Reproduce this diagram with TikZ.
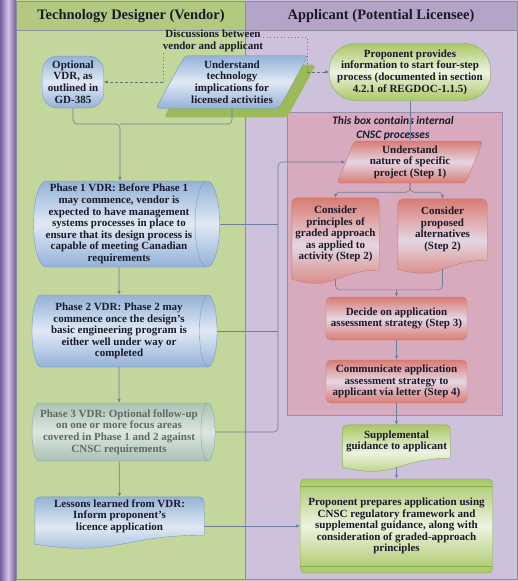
\documentclass[tikz,border=0pt]{standalone}
\usepackage{fontspec}
\setmainfont{Liberation Serif}
\newfontfamily\notefont{Carlito}
\usetikzlibrary{arrows.meta,positioning,calc,shapes.geometric,shapes.misc,shadows}
\definecolor{vlane}{HTML}{C3D69B}
\definecolor{vhead}{HTML}{B1CA80}
\definecolor{alane}{HTML}{CDC1DB}
\definecolor{ahead}{HTML}{B4A4C8}
\definecolor{bar}{HTML}{7A5C9E}
\definecolor{barlt}{HTML}{D2C4E6}
\definecolor{lanebd}{HTML}{8C8C9C}
\definecolor{blu}{HTML}{94B2D8}
\definecolor{blult}{HTML}{E0E9F4}
\definecolor{bluedge}{HTML}{7C99C2}
\definecolor{grn}{HTML}{A8C866}
\definecolor{grnlt}{HTML}{EDF3E1}
\definecolor{grnedge}{HTML}{8AAE4C}
\definecolor{shgrn}{HTML}{9BBB59}
\definecolor{rdd}{HTML}{D97C74}
\definecolor{rdlt}{HTML}{E4D6E2}
\definecolor{rdedge}{HTML}{C87A78}
\definecolor{cnsc}{HTML}{D8AABE}
\definecolor{cnscedge}{HTML}{9A8CB0}
\definecolor{grey3}{HTML}{A9C3B6}
\definecolor{grey3lt}{HTML}{DCE6E0}
\definecolor{grey3edge}{HTML}{8FA79C}
\definecolor{grey3txt}{HTML}{5F6B65}
\definecolor{ink}{HTML}{1A1A2A}
\definecolor{connc}{HTML}{6E7E9E}
\definecolor{dshc}{HTML}{5E7A78}
\pgfdeclarelayer{lanes}
\pgfdeclarelayer{shapes}
\pgfsetlayers{lanes,shapes,main}
% wavy-bottom document outline behind a text node
\newcommand\docshape[2]{%
  \begin{pgfonlayer}{shapes}
  \draw[#2] ($(#1.south west)+(0,9)$) [rounded corners=5pt] -- (#1.north west) -- (#1.north east) [sharp corners] -- (#1.south east)
    .. controls (#1.south) and ($(#1.south)+(0,22)$) .. ($(#1.south west)+(0,9)$) -- cycle;
  \end{pgfonlayer}}
\begin{document}
\begin{tikzpicture}[x=1pt, y=-1pt, >={Latex[length=4pt,width=3.5pt]},
  n/.style={align=center, font=\bfseries\fontsize{11}{11.6}\selectfont, text=ink, inner sep=1pt},
  bluefill/.style={draw=bluedge, top color=blu, bottom color=blu, middle color=blult},
  grnfill/.style={draw=grnedge, top color=grn, bottom color=grn, middle color=grnlt},
  redfill/.style={draw=rdedge, top color=rdd, bottom color=rdd, middle color=rdlt},
  greyfill/.style={draw=grey3edge, top color=grey3, bottom color=grey3, middle color=grey3lt},
  drum/.style={n, cylinder, shape aspect=0.3},
  slantbox/.style={n, trapezium, trapezium stretches=true, rounded corners=3pt},
  roundbox/.style={n, rectangle, rounded corners=#1},
  conn/.style={draw=connc, line width=0.6pt, rounded corners=4pt},
  e/.style={conn, ->},
  dots/.style={draw=dshc, line width=1pt, dash pattern=on 1pt off 2.5pt},
  dsh/.style={draw=dshc, line width=0.8pt, dash pattern=on 3pt off 2pt, ->},
  lane/.style={draw=lanebd, line width=0.6pt},
  head/.style={font=\bfseries\fontsize{14.5}{16}\selectfont, text=ink}
]
\useasboundingbox (0,0) rectangle (518,581);
% lanes
\begin{pgfonlayer}{lanes}
\fill[vlane] (16,0) rectangle (245,581);
\fill[alane] (245,0) rectangle (518,581);
\fill[vhead] (16,2) rectangle (245,30);
\fill[ahead] (245,2) rectangle (518,30);
\shade[left color=bar, right color=bar, middle color=barlt] (0,0) rectangle (16,581);
\draw[lane] (16,1) rectangle (245,579);
\draw[lane] (245,1) rectangle (517,579);
\draw[lane] (16,30) -- (517,30);
\node[chamfered rectangle, chamfered rectangle xsep=8pt, chamfered rectangle ysep=8pt, draw=cnscedge, fill=cnsc,
      minimum width=215pt, minimum height=303pt, inner sep=0pt] (cnsc) at (394.5,263.5) {};
\end{pgfonlayer}
\node[head] (vhd) at (131,16) {Technology Designer (Vendor)};
\node[head] (ahd) at (381,16) {Applicant (Potential Licensee)};
\node[n, font=\notefont\bfseries\itshape\fontsize{11.5}{14}\selectfont] (cnsct) at (393,128) {This box contains internal\\CNSC processes};

% vendor lane
\node[roundbox=15pt, bluefill, minimum width=61pt, minimum height=52pt] (ovdr) at (73,82) {Optional\\VDR, as\\outlined in\\GD-385};
\node[slantbox, bluefill, trapezium left angle=64, trapezium right angle=116, minimum width=152pt, inner ysep=5pt,
      drop shadow={shadow xshift=8pt, shadow yshift=-9pt, fill=shgrn, opacity=1}] (utech) at (232,82) {Understand\\technology\\implications for\\licensed activities};
\node[n, inner sep=0pt] (disc) at (213,41) {Discussions between\\vendor and applicant};
\node[drum, bluefill, minimum height=186pt, minimum width=86pt] (p1) at (119,224) {Phase 1 VDR: Before Phase 1\\may commence, vendor is\\expected to have management\\systems processes in place to\\ensure that its design process is\\capable of meeting Canadian\\requirements};
\node[drum, bluefill, minimum height=185pt, minimum width=72pt] (p2) at (119,331) {Phase 2 VDR: Phase 2 may\\commence once the design's\\basic engineering program is\\either well under way or\\completed};
\node[drum, greyfill, minimum height=183pt, minimum width=58pt, text=grey3txt] (p3) at (119,432) {Phase 3 VDR: Optional follow-up\\on one or more focus areas\\covered in Phase 1 and 2 against\\CNSC requirements};
\node[n, minimum width=169pt, minimum height=38pt] (ll) at (119.5,516) {Lessons learned from VDR:\\Inform proponent's\\licence application};
\docshape{ll}{bluefill}

% applicant lane
\node[roundbox=26pt, grnfill, minimum width=161pt, minimum height=57pt] (ppi) at (410,72) {Proponent provides\\information to start four-step\\process (documented in section\\4.2.1 of REGDOC-1.1.5)};
\node[slantbox, redfill, trapezium left angle=70, trapezium right angle=110, minimum width=146pt, minimum height=42pt] (step1) at (410,162) {Understand\\nature of specific\\project (Step 1)};
\node[n, minimum width=87pt, minimum height=72pt] (cpga) at (335.5,234) {Consider\\principles of\\graded approach\\as applied to\\activity (Step 2)};
\docshape{cpga}{redfill}
\node[n, minimum width=89pt, minimum height=61pt] (cpa) at (442.5,229.5) {Consider\\proposed\\alternatives\\(Step 2)};
\docshape{cpa}{redfill}
\node[roundbox=5pt, redfill, minimum width=141pt, minimum height=43pt] (dec) at (396.5,318.5) {Decide on application\\assessment strategy (Step 3)};
\node[roundbox=5pt, redfill, minimum width=141pt, minimum height=43pt] (com) at (396.5,381.5) {Communicate application\\assessment strategy to\\applicant via letter (Step 4)};
\node[n, minimum width=108pt, minimum height=33pt] (sup) at (396.5,441.5) {Supplemental\\guidance to applicant};
\docshape{sup}{grnfill}
\node[roundbox=4pt, grnfill, minimum width=192pt, minimum height=94pt] (ppa) at (396.5,526) {Proponent prepares application using\\CNSC regulatory framework and\\supplemental guidance, along with\\consideration of graded-approach\\principles};
\draw[grnedge] ([yshift=-7pt]ppa.north west) -- ([yshift=-7pt]ppa.north east);
\draw[grnedge] ([yshift=7pt]ppa.south west) -- ([yshift=7pt]ppa.south east);

% connectors
\coordinate (j1) at (120,124);
\draw[e] (ovdr.south) |- (j1) -- (j1 |- p1.north);
\draw[conn] (utech.south) |- (j1);
\draw[e] (p1) -- (p2);
\draw[e] (p2) -- (p3);
\draw[e] (p3) -- (ll);
\coordinate (bus) at (278,162);
\draw[e] (p3.east) -| (bus) -- (step1.west);
\draw[conn] (p1.east) -- (p1.east -| bus);
\draw[conn] (p2.east) -- (p2.east -| bus);
\draw[e] (ll.east |- ppa.west) -- (ppa.west);
\draw[e] (ppi) -- (step1);
\draw[e] (step1.south) -- ++(0,9) -| (cpga.north);
\draw[e] (step1.south) -- ++(0,9) -| (cpa.north);
\coordinate (merge) at ($(dec.north)+(0,-7)$);
\draw[conn] ($(cpga.south)+(0,9)$) |- (merge);
\draw[conn] ($(cpa.south)+(0,9)$) |- (merge);
\draw[e] (merge) -- (dec.north);
\draw[e] (dec) -- (com);
\draw[e] (com) -- (sup);
\draw[e] ($(sup.south)+(0,9)$) -- (ppa.north);
% discussion links
\coordinate (dl) at (163,82);
\coordinate (dtop) at (307,37);
\coordinate (dr) at (307,72);
\draw[dsh] (dl) -- (ovdr.east);
\draw[dots] (dl) -- (dl |- disc.south);
\draw[dots] (disc.east |- dtop) -- (dtop) -- (dr);
\draw[dsh] (dr) -- (ppi.west);
\end{tikzpicture}
\end{document}
